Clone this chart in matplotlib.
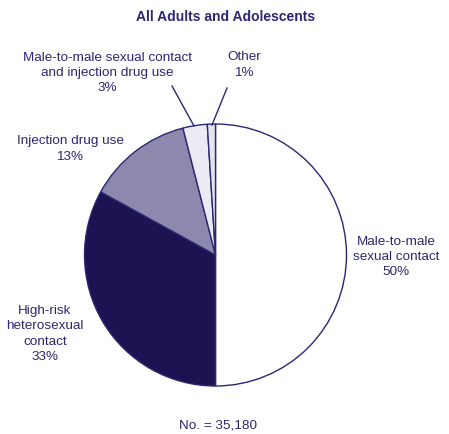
import matplotlib.pyplot as plt

categories = ['Male-to-male\nsexual contact', 'High-risk\nheterosexual\ncontact',
              'Injection drug use', 'Male-to-male sexual contact\nand injection drug use', 'Other']
values = [50, 33, 13, 3, 1]
colors = ['#ffffff', '#1e1352', '#8d88ad', '#ebebf3', '#e4e4ee']
title = 'All Adults and Adolescents'
total_label = 'No. = 35,180'

navy = '#2b2870'
W, H = 449, 435
plt.rcParams['font.family'] = ['Liberation Sans', 'DejaVu Sans']

fig = plt.figure(figsize=(W / 100, H / 100), dpi=100)
ax = fig.add_axes([0, 0, 1, 1])

cx, cy, r = 215.5, H - 256, 131
ax.pie(values, colors=colors, startangle=90, counterclock=False, center=(cx, cy), radius=r,
       wedgeprops=dict(edgecolor=navy, linewidth=1.0), frame=True)
ax.set_xlim(0, W)
ax.set_ylim(0, H)
ax.set_aspect('equal')
ax.axis('off')

def lab(x, y, s):
    ax.text(x, H - y, s, ha='center', va='center', color=navy, fontsize=9.7, linespacing=1.38)

lab(396, 257, categories[0] + '\n50%')
lab(45, 334, categories[1] + '\n33%')
lab(70, 149, categories[2] + '\n13%')
lab(107, 73, categories[3] + '\n3%')
lab(244, 65, categories[4] + '\n1%')

ax.plot([172, 194], [H - 87, H - 127], color=navy, lw=1)
ax.plot([227, 212], [H - 89, H - 126], color=navy, lw=1)

ax.text(226, H - 17, title, ha='center', va='center', color=navy, fontsize=10, fontweight='bold')
ax.text(218, H - 426, total_label, ha='center', va='center', color=navy, fontsize=9.7)

fig.savefig('out.png', dpi=100)
